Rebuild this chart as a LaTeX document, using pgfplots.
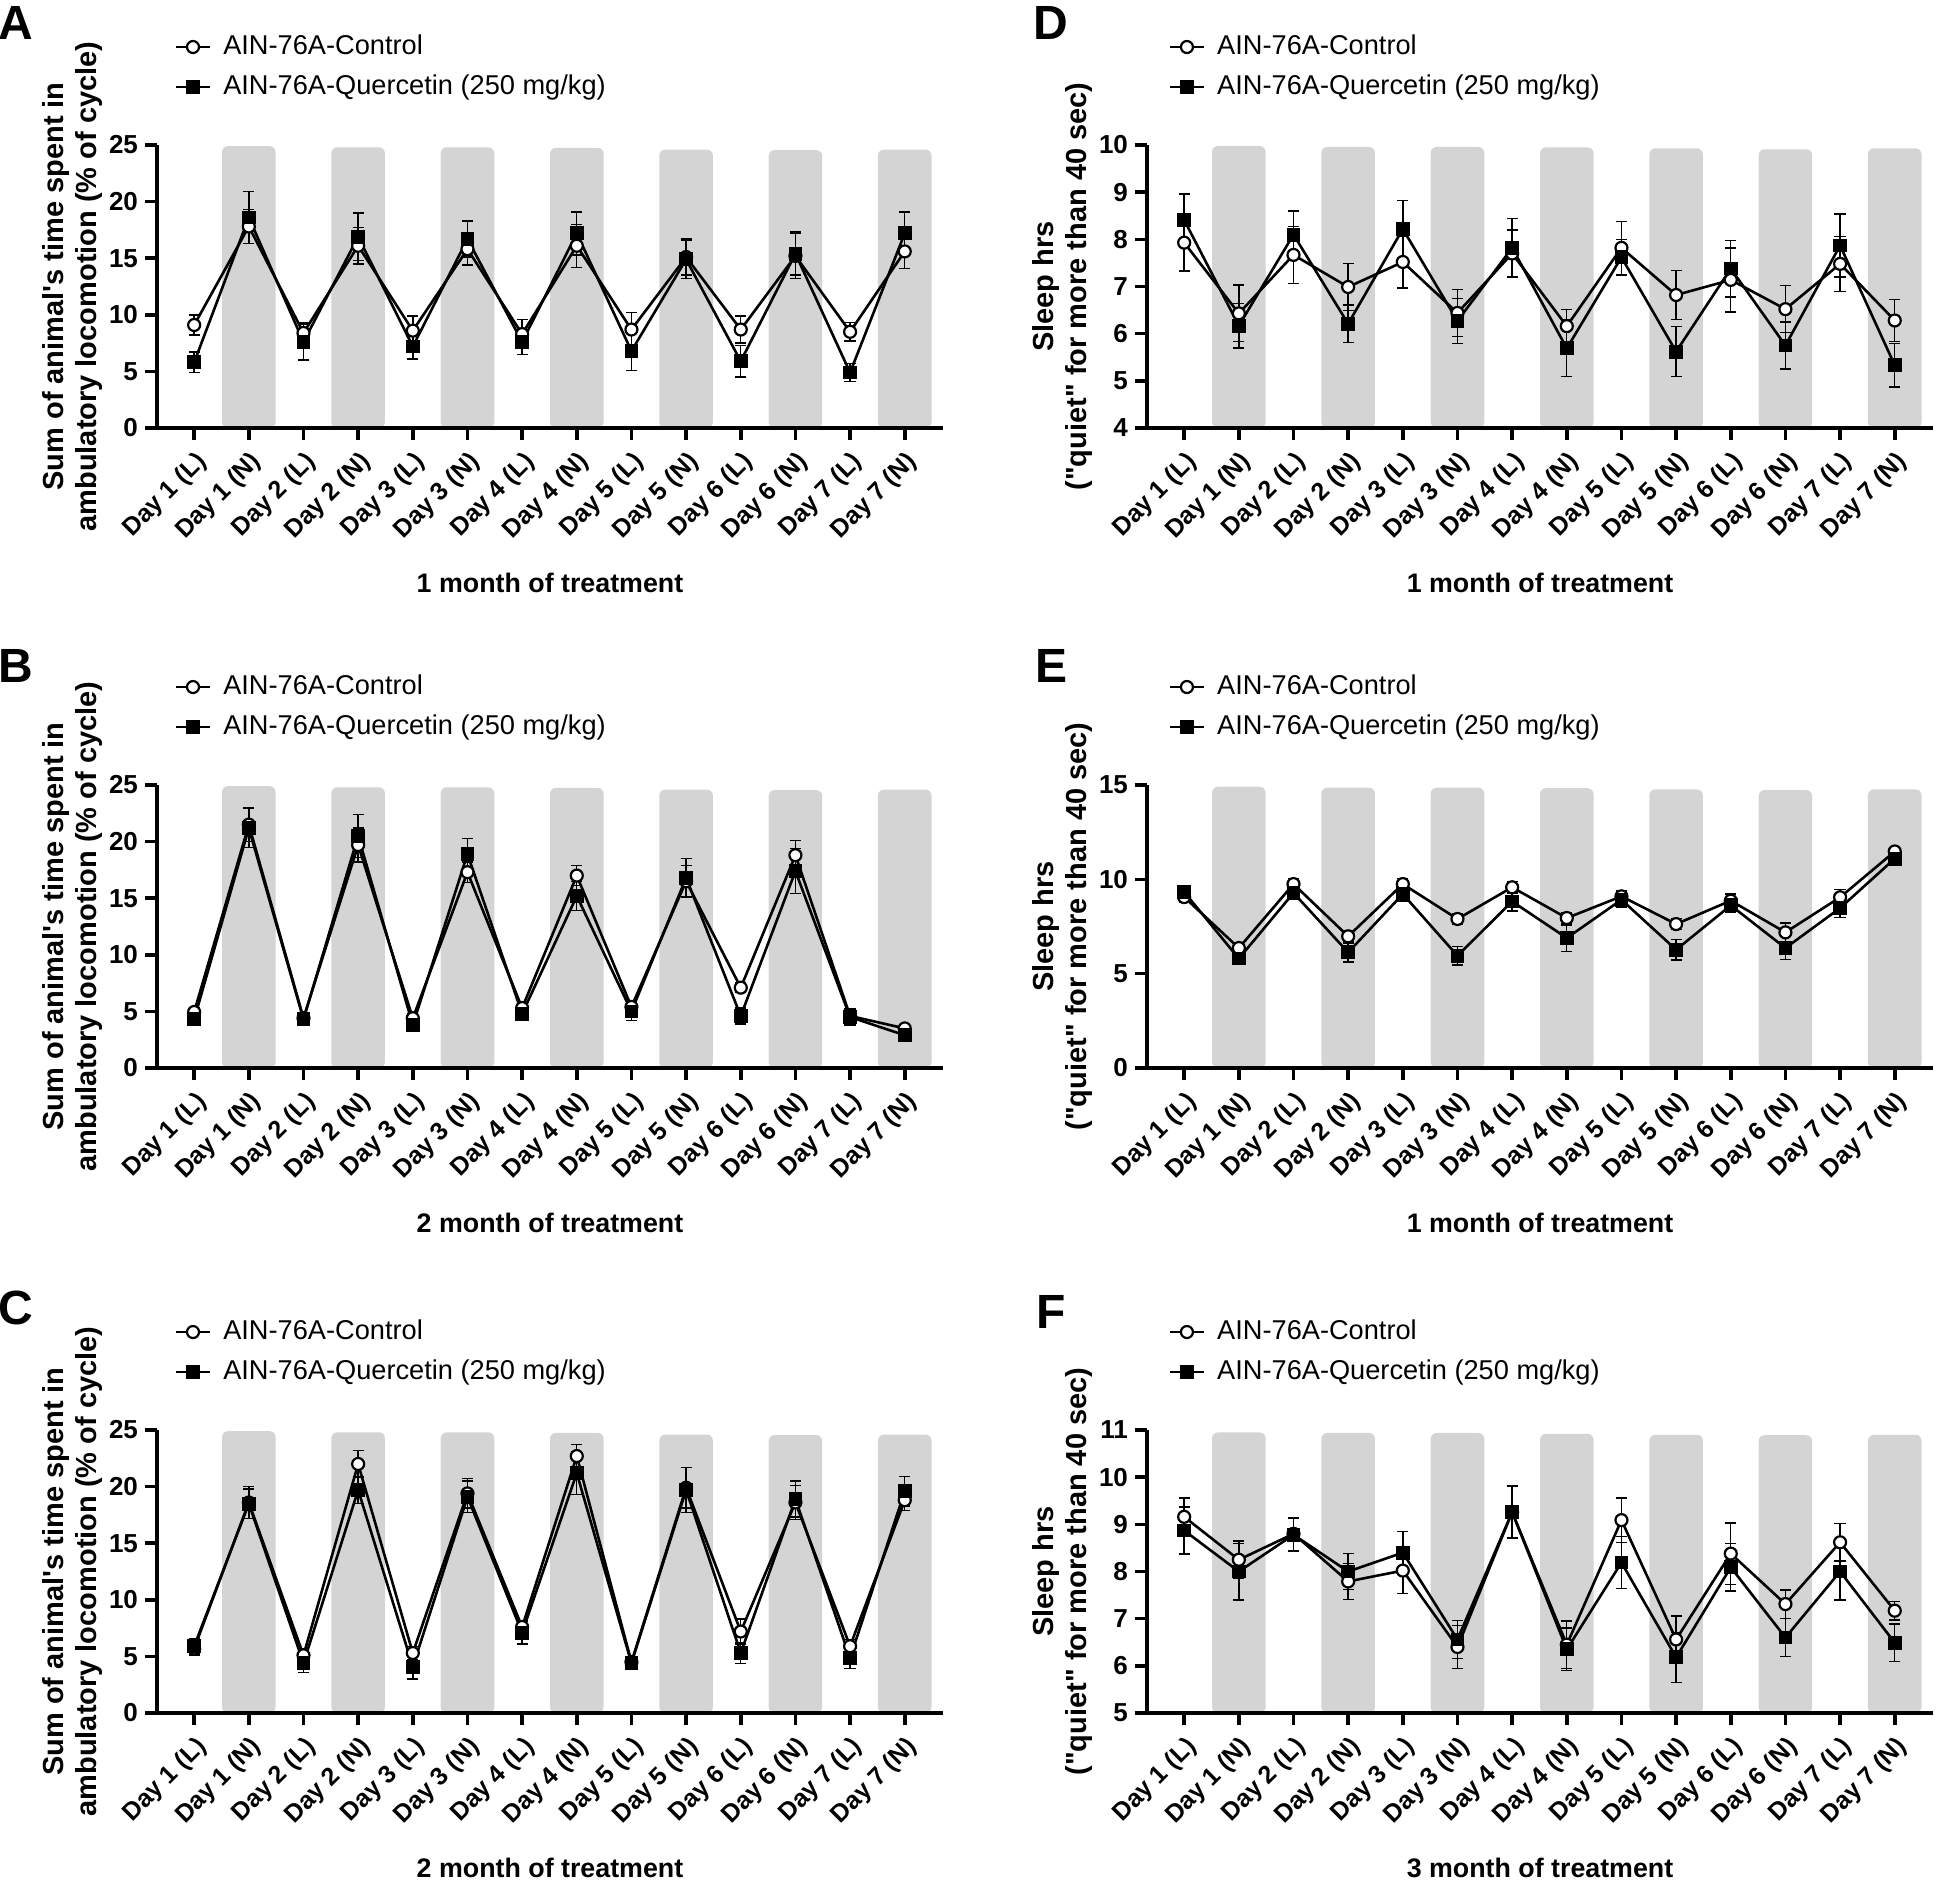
\documentclass[border=0pt]{standalone}
\usepackage{pgfplots}
\usepackage{pgfplotstable}
\usepackage{fontspec}
\setmainfont{Liberation Sans}
\pgfplotsset{compat=1.18}

\definecolor{bandgray}{RGB}{212,212,212}

% x, control mean/sem, quercetin mean/sem
\pgfplotstableread{
x c ce q qe
0 9.1 0.9 5.8 0.9
1 17.8 1.5 18.6 2.3
2 8.4 0.9 7.6 1.6
3 16.1 1.6 16.9 2.1
4 8.6 1.3 7.2 1.1
5 15.8 1.4 16.7 1.6
6 8.3 1.3 7.6 1.1
7 16.1 1.9 17.2 1.9
8 8.7 1.5 6.8 1.7
9 15.1 1.6 14.9 1.7
10 8.7 1.2 5.9 1.4
11 15.2 2.0 15.4 1.9
12 8.5 0.8 4.9 0.8
13 15.6 1.5 17.2 1.9
}\tabA

\pgfplotstableread{
x c ce q qe
0 4.95 0.4 4.3 0.4
1 21.5 1.5 21.2 1.7
2 4.4 0.4 4.3 0.4
3 19.7 1.5 20.5 1.9
4 4.4 0.4 3.8 0.4
5 17.3 0.9 18.9 1.4
6 5.3 0.5 4.8 0.5
7 17.0 0.9 15.2 1.3
8 5.4 0.5 5.0 0.8
9 16.5 1.4 16.8 1.7
10 7.1 0.4 4.6 0.7
11 18.8 1.3 17.4 2.0
12 4.6 0.6 4.5 0.7
13 3.5 0.2 2.9 0.3
}\tabB

\pgfplotstableread{
x c ce q qe
0 5.7 0.6 5.9 0.7
1 18.6 1.4 18.5 1.3
2 5.1 0.6 4.4 0.8
3 22.0 1.2 19.7 1.2
4 5.3 0.6 4.1 1.1
5 19.4 1.3 19.1 1.4
6 7.6 0.6 7.1 1.0
7 22.7 1.0 21.2 1.9
8 4.5 0.5 4.4 0.5
9 19.9 1.8 19.7 2.0
10 7.2 1.1 5.3 0.9
11 18.6 1.5 18.9 1.6
12 5.9 0.6 4.85 0.9
13 18.8 0.9 19.6 1.3
}\tabC

\pgfplotstableread{
x c ce q qe
0 7.93 0.6 8.41 0.55
1 6.43 0.6 6.17 0.47
2 7.67 0.6 8.10 0.5
3 6.99 0.5 6.21 0.4
4 7.52 0.55 8.22 0.6
5 6.44 0.5 6.27 0.48
6 7.70 0.5 7.82 0.62
7 6.16 0.35 5.69 0.6
8 7.82 0.56 7.62 0.38
9 6.82 0.52 5.62 0.53
10 7.14 0.68 7.38 0.6
11 6.52 0.5 5.75 0.5
12 7.48 0.58 7.87 0.67
13 6.28 0.45 5.33 0.46
}\tabD

\pgfplotstableread{
x c ce q qe
0 9.06 0.3 9.33 0.3
1 6.36 0.3 5.80 0.3
2 9.75 0.3 9.28 0.3
3 6.98 0.3 6.13 0.5
4 9.75 0.3 9.22 0.4
5 7.90 0.3 5.95 0.5
6 9.58 0.3 8.83 0.5
7 7.95 0.3 6.89 0.7
8 9.10 0.3 8.92 0.4
9 7.63 0.3 6.27 0.55
10 8.87 0.35 8.62 0.35
11 7.19 0.5 6.36 0.6
12 9.05 0.4 8.48 0.5
13 11.48 0.2 11.10 0.2
}\tabE

\pgfplotstableread{
x c ce q qe
0 9.16 0.4 8.87 0.5
1 8.25 0.4 8.00 0.6
2 8.80 0.35 8.78 0.35
3 7.79 0.38 8.00 0.38
4 8.02 0.48 8.40 0.45
5 6.40 0.45 6.56 0.4
6 9.26 0.55 9.26 0.55
7 6.45 0.5 6.35 0.45
8 9.09 0.47 8.19 0.55
9 6.56 0.5 6.18 0.53
10 8.38 0.65 8.09 0.5
11 7.31 0.3 6.60 0.4
12 8.62 0.4 8.00 0.6
13 7.17 0.2 6.49 0.4
}\tabF

% shaded night bands (top of each band)
\pgfplotstableread{
x loc e d f
1 24.9 14.91 9.98 10.95
3 24.8 14.86 9.96 10.94
5 24.8 14.86 9.96 10.94
7 24.75 14.83 9.95 10.92
9 24.6 14.77 9.93 10.90
11 24.55 14.73 9.91 10.89
13 24.6 14.77 9.93 10.90
}\bands

\pgfplotsset{
  panel/.style={
    scale only axis, width=393pt, height=141.5pt,
    xmin=-0.68, xmax=13.7,
    axis lines*=left,
    axis line style={line width=1.8pt},
    axis on top,
    tick align=outside, major tick length=6pt,
    tick style={line width=1.8pt, black},
    xtick={0,...,13},
    xticklabels={Day 1 (L),Day 1 (N),Day 2 (L),Day 2 (N),Day 3 (L),Day 3 (N),Day 4 (L),Day 4 (N),Day 5 (L),Day 5 (N),Day 6 (L),Day 6 (N),Day 7 (L),Day 7 (N)},
    xticklabel style={rotate=45, anchor=north east, font=\fontsize{12.5}{12.5}\selectfont\bfseries},
    yticklabel style={font=\fontsize{13}{13}\selectfont\bfseries},
    /pgf/number format/assume math mode=true,
    ylabel style={at={(axis description cs:-0.107,0.5)}, anchor=center, align=center,
      font=\fontsize{14.5}{16.5}\selectfont\bfseries},
    xlabel style={at={(axis description cs:0.5,-0.548)}, anchor=center,
      font=\fontsize{13.4}{16}\selectfont\bfseries},
    legend style={draw=none, fill=none, inner sep=0pt, anchor=west,
      font=\fontsize{13.6}{16}\selectfont, row sep=7pt, column sep=6pt,
      nodes={inner sep=0pt, text height=10pt, text depth=3pt}},
    legend cell align=left,
    legend image code/.code={
      \draw[##1, mark=none, line width=1.3pt] (0pt,0pt) -- (17pt,0pt);
      \draw[##1, only marks] plot coordinates {(8.5pt,0pt)};
    },
  },
  band/.style={ybar, bar width=0.98, bar shift=0pt, fill=bandgray, draw=none,
    rounded corners=3pt, forget plot},
  ctrl/.style={black, line width=1.3pt, mark=*, mark size=3pt,
    mark options={fill=white, draw=black, line width=1.1pt, solid},
    error bars/.cd, y dir=both, y explicit,
    error bar style={line width=0.7pt, black},
    error mark options={rotate=90, line width=0.7pt, mark size=2.8pt, black}},
  quer/.style={black, line width=1.3pt, mark=square*, mark size=2.8pt,
    mark options={fill=black, draw=black, solid},
    error bars/.cd, y dir=both, y explicit,
    error bar style={line width=0.7pt, black},
    error mark options={rotate=90, line width=0.7pt, mark size=2.8pt, black}},
}

\newcommand{\loclabel}{Sum of animal\textquotesingle s time spent in\\ambulatory locomotion (\% of cycle)}
\newcommand{\sleeplabel}{Sleep hrs\\(\textquotedbl quiet\textquotedbl{} for more than 40 sec)}

\begin{document}
\begin{tikzpicture}
\path[use as bounding box] (0pt,0pt) rectangle (972pt,-940.5pt);

% ---- A ----
\begin{axis}[panel, at={(78.5pt,-214pt)}, anchor=south west,
  ymin=0, ymax=25, ytick={0,5,...,25},
  ylabel={\loclabel}, xlabel={1 month of treatment},
  legend style={at={(axis description cs:0.022,1.2756)}}]
\addplot[band] table[x=x, y=loc] {\bands};
\addplot[ctrl] table[x=x, y=c, y error=ce] {\tabA};
\addlegendentry{AIN-76A-Control}
\addplot[quer] table[x=x, y=q, y error=qe] {\tabA};
\addlegendentry{AIN-76A-Quercetin (250 mg/kg)}
\end{axis}

% ---- D ----
\begin{axis}[panel, at={(573.5pt,-214pt)}, anchor=south west,
  ymin=4, ymax=10, ytick={4,5,...,10},
  ylabel={\sleeplabel}, xlabel={1 month of treatment},
  legend style={at={(axis description cs:0.027,1.2756)}}]
\addplot[band] table[x=x, y=d] {\bands};
\addplot[ctrl] table[x=x, y=c, y error=ce] {\tabD};
\addlegendentry{AIN-76A-Control}
\addplot[quer] table[x=x, y=q, y error=qe] {\tabD};
\addlegendentry{AIN-76A-Quercetin (250 mg/kg)}
\end{axis}

% ---- B ----
\begin{axis}[panel, at={(78.5pt,-534pt)}, anchor=south west,
  ymin=0, ymax=25, ytick={0,5,...,25},
  ylabel={\loclabel}, xlabel={2 month of treatment},
  legend style={at={(axis description cs:0.022,1.2756)}}]
\addplot[band] table[x=x, y=loc] {\bands};
\addplot[ctrl] table[x=x, y=c, y error=ce] {\tabB};
\addlegendentry{AIN-76A-Control}
\addplot[quer] table[x=x, y=q, y error=qe] {\tabB};
\addlegendentry{AIN-76A-Quercetin (250 mg/kg)}
\end{axis}

% ---- E ----
\begin{axis}[panel, at={(573.5pt,-534pt)}, anchor=south west,
  ymin=0, ymax=15, ytick={0,5,...,15},
  ylabel={\sleeplabel}, xlabel={1 month of treatment},
  legend style={at={(axis description cs:0.027,1.2756)}}]
\addplot[band] table[x=x, y=e] {\bands};
\addplot[ctrl] table[x=x, y=c, y error=ce] {\tabE};
\addlegendentry{AIN-76A-Control}
\addplot[quer] table[x=x, y=q, y error=qe] {\tabE};
\addlegendentry{AIN-76A-Quercetin (250 mg/kg)}
\end{axis}

% ---- C ----
\begin{axis}[panel, at={(78.5pt,-856.5pt)}, anchor=south west,
  ymin=0, ymax=25, ytick={0,5,...,25},
  ylabel={\loclabel}, xlabel={2 month of treatment},
  legend style={at={(axis description cs:0.022,1.2756)}}]
\addplot[band] table[x=x, y=loc] {\bands};
\addplot[ctrl] table[x=x, y=c, y error=ce] {\tabC};
\addlegendentry{AIN-76A-Control}
\addplot[quer] table[x=x, y=q, y error=qe] {\tabC};
\addlegendentry{AIN-76A-Quercetin (250 mg/kg)}
\end{axis}

% ---- F ----
\begin{axis}[panel, at={(573.5pt,-856.5pt)}, anchor=south west,
  ymin=5, ymax=11, ytick={5,6,...,11},
  ylabel={\sleeplabel}, xlabel={3 month of treatment},
  legend style={at={(axis description cs:0.027,1.2756)}}]
\addplot[band] table[x=x, y=f] {\bands};
\addplot[ctrl] table[x=x, y=c, y error=ce] {\tabF};
\addlegendentry{AIN-76A-Control}
\addplot[quer] table[x=x, y=q, y error=qe] {\tabF};
\addlegendentry{AIN-76A-Quercetin (250 mg/kg)}
\end{axis}

\begin{scope}[font=\fontsize{24}{24}\selectfont\bfseries]
\node at (8pt,-11.5pt) {A};
\node at (525.5pt,-11.5pt) {D};
\node at (8pt,-333pt) {B};
\node at (525.5pt,-333pt) {E};
\node at (8pt,-654pt) {C};
\node at (525.5pt,-656pt) {F};
\end{scope}
\end{tikzpicture}
\end{document}
